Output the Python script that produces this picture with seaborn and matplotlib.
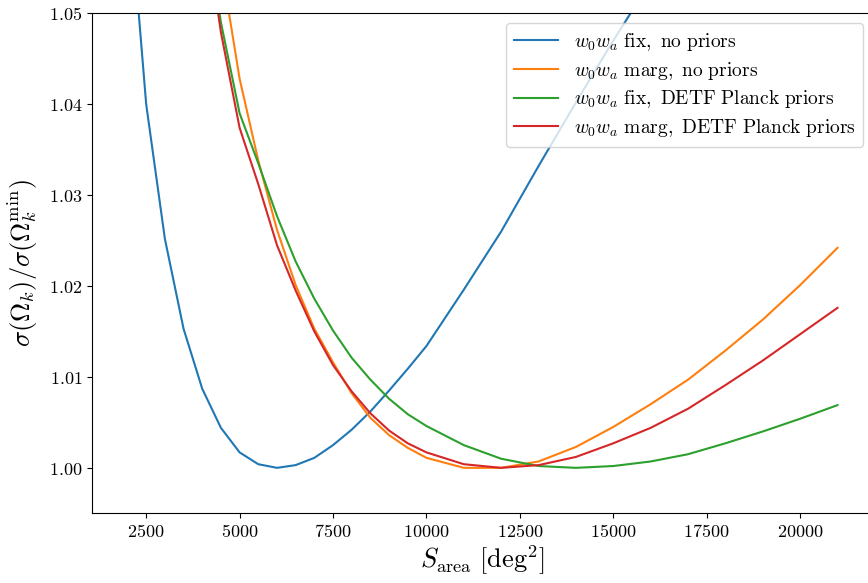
import numpy as np
import pandas as pd
import matplotlib
matplotlib.use("Agg")
import matplotlib.pyplot as plt
from matplotlib.ticker import FuncFormatter
import seaborn as sns

plt.rcParams['mathtext.fontset'] = 'cm'
plt.rcParams['font.family'] = ['DejaVu Serif']

# Survey area grid [deg^2]
area = [2000, 2500, 3000, 3500, 4000, 4500, 5000, 5500, 6000, 6500, 7000, 7500,
        8000, 8500, 9000, 9500, 10000, 11000, 12000, 13000, 14000, 15000, 16000,
        17000, 18000, 19000, 20000, 21000]

fix_nopriors = [1.0650, 1.0400, 1.0252, 1.0153, 1.0087, 1.0044, 1.0017, 1.0004,
                1.0000, 1.0003, 1.0011, 1.0025, 1.0042, 1.0062, 1.0085, 1.0109,
                1.0134, 1.0196, 1.0260, 1.0332, 1.0402, 1.0470, 1.0535, 1.0600,
                1.0670, 1.0740, 1.0810, 1.0880]
marg_nopriors = [1.2600, 1.1800, 1.1300, 1.0950, 1.0720, 1.0555, 1.0428, 1.0338,
                 1.0262, 1.0201, 1.0153, 1.0116, 1.0082, 1.0055, 1.0036, 1.0022,
                 1.0011, 1.0000, 1.0000, 1.0007, 1.0023, 1.0045, 1.0070, 1.0097,
                 1.0129, 1.0163, 1.0201, 1.0242]
fix_detf = [1.1700, 1.1300, 1.1000, 1.0780, 1.0620, 1.0490, 1.0390, 1.0335,
            1.0277, 1.0227, 1.0186, 1.0151, 1.0121, 1.0097, 1.0076, 1.0059,
            1.0046, 1.0025, 1.0010, 1.0002, 1.0000, 1.0002, 1.0007, 1.0015,
            1.0027, 1.0040, 1.0054, 1.0069]
marg_detf = [1.1900, 1.1400, 1.1050, 1.0800, 1.0620, 1.0479, 1.0374, 1.0312,
             1.0245, 1.0195, 1.0150, 1.0113, 1.0084, 1.0060, 1.0041, 1.0027,
             1.0017, 1.0004, 1.0000, 1.0003, 1.0012, 1.0027, 1.0044, 1.0065,
             1.0091, 1.0118, 1.0147, 1.0176]

labels = [r'$w_0w_a\ \mathrm{fix},\ \mathrm{no\ priors}$',
          r'$w_0w_a\ \mathrm{marg},\ \mathrm{no\ priors}$',
          r'$w_0w_a\ \mathrm{fix},\ \mathrm{DETF\ Planck\ priors}$',
          r'$w_0w_a\ \mathrm{marg},\ \mathrm{DETF\ Planck\ priors}$']
series = [fix_nopriors, marg_nopriors, fix_detf, marg_detf]

df = pd.concat([pd.DataFrame({'area': area, 'ratio': s, 'case': lab})
                for s, lab in zip(series, labels)], ignore_index=True)

fig = plt.figure(figsize=(8.68, 5.83), dpi=100)
ax = fig.add_axes([92 / 868, 1 - 513.3 / 583, (873 - 92) / 868, (513.3 - 13.3) / 583])

palette = sns.color_palette('tab10', 4)
sns.lineplot(data=df, x='area', y='ratio', hue='case', hue_order=labels,
             palette=palette, linewidth=1.5, ax=ax, sort=False)

ax.set_ylim(0.995, 1.05)
ax.set_xlim(1050, 21950)
ax.set_xticks([2500, 5000, 7500, 10000, 12500, 15000, 17500, 20000])
ax.set_yticks([1.00, 1.01, 1.02, 1.03, 1.04, 1.05])
ax.xaxis.set_major_formatter(FuncFormatter(lambda v, p: r'$%d$' % int(round(v))))
ax.yaxis.set_major_formatter(FuncFormatter(lambda v, p: r'$%.2f$' % v))
ax.tick_params(labelsize=13)

ax.set_xlabel(r'$S_{\rm area}\ [{\rm deg}^2]$', fontsize=19, labelpad=2)
ax.set_ylabel(r'$\sigma(\Omega_k)/\sigma(\Omega_k^{\rm min})$', fontsize=19, labelpad=6)

leg = ax.get_legend()
handles = leg.legend_handles
texts = [t.get_text() for t in leg.get_texts()]
ax.legend(handles, texts, loc='upper right', fontsize=14, frameon=True,
          labelspacing=0.35, handlelength=2.25)

fig.savefig('out.png', dpi=100)
